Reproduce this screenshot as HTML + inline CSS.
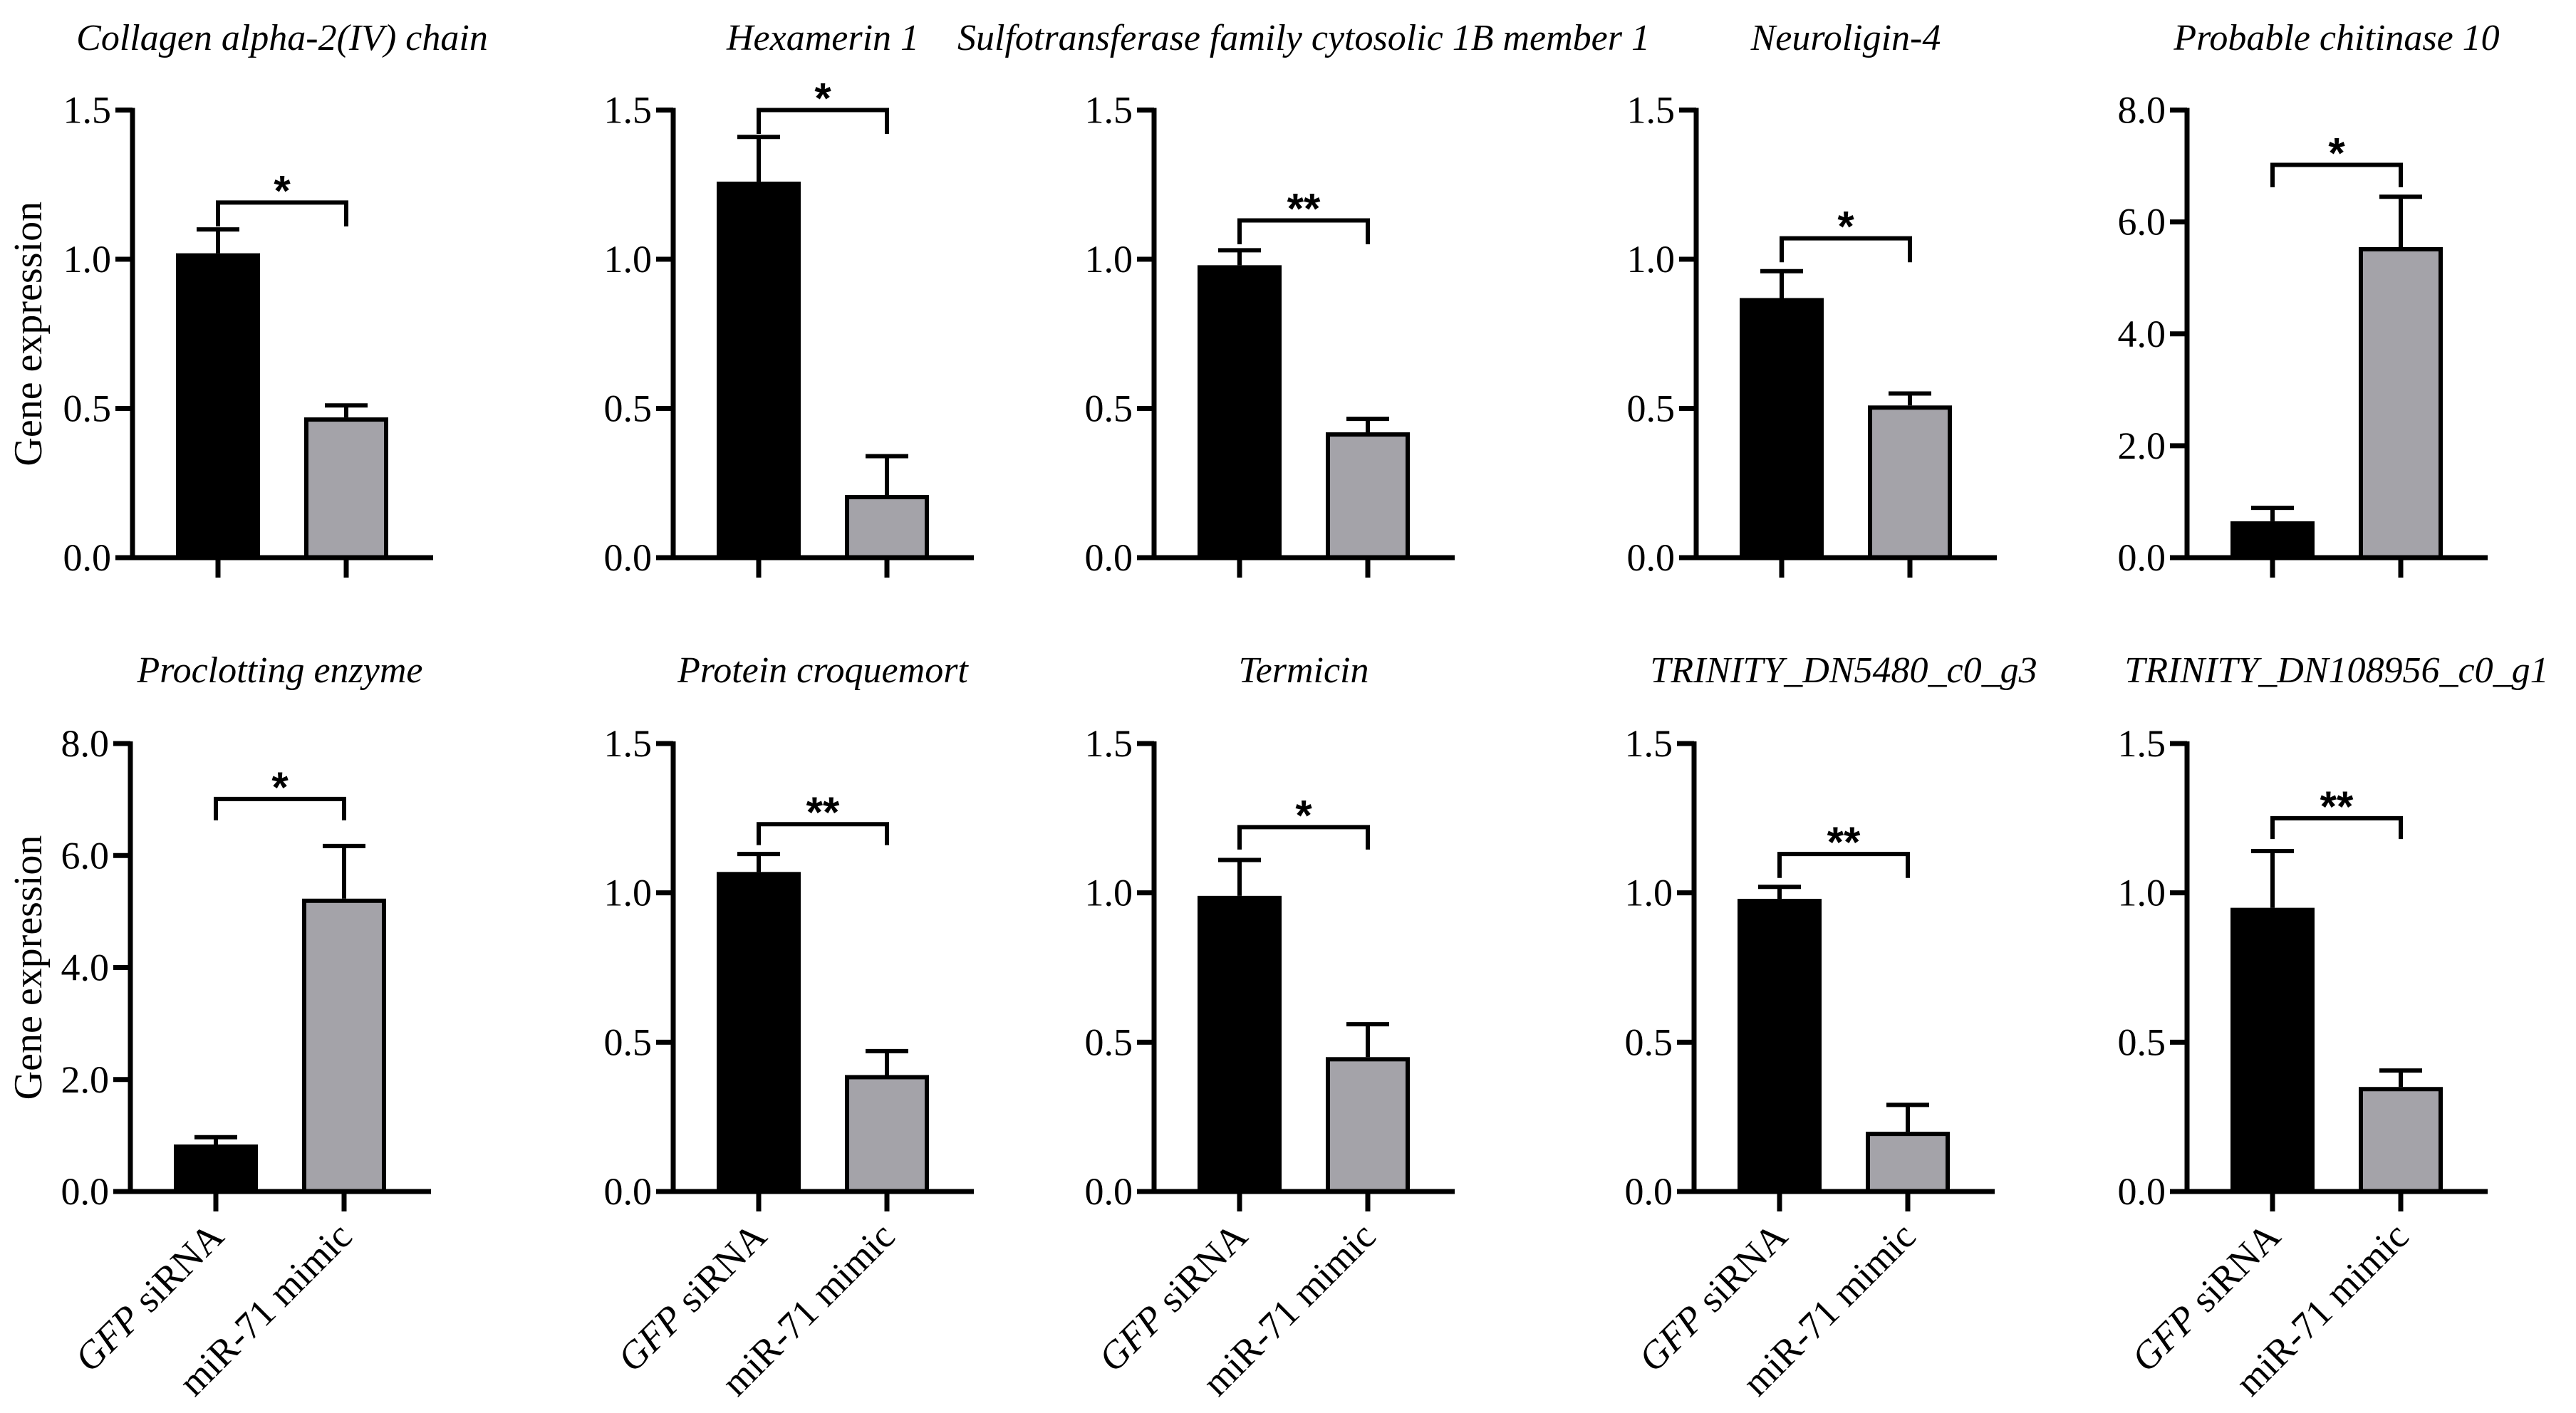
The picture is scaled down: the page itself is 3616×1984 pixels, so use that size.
<!DOCTYPE html>
<html><head><meta charset="utf-8"><style>
html,body{margin:0;padding:0;background:#fff;}
svg{display:block;}
svg text, svg tspan{font-family:'Liberation Serif', serif !important;fill:#000;}
svg text.star{font-family:'Liberation Sans', sans-serif !important;}
</style></head>
<body>
<svg id="chart" width="3616" height="1984" viewBox="0 0 3616 1984" xmlns="http://www.w3.org/2000/svg"></svg>
<script>
const titles = ["Collagen alpha-2(IV) chain","Hexamerin 1","Sulfotransferase family cytosolic 1B member 1","Neuroligin-4","Probable chitinase 10","Proclotting enzyme","Protein croquemort","Termicin","TRINITY_DN5480_c0_g3","TRINITY_DN108956_c0_g1"];
const categories = ["GFP siRNA","miR-71 mimic"];
const controlMeans = [1.02,1.26,0.98,0.87,0.65,0.84,1.07,0.99,0.98,0.95];
const controlErr = [0.08,0.15,0.05,0.09,0.24,0.13,0.06,0.12,0.04,0.19];
const mimicMeans = [0.47,0.21,0.42,0.51,5.55,5.23,0.39,0.45,0.20,0.35];
const mimicErr = [0.04,0.13,0.045,0.04,0.90,0.94,0.08,0.11,0.09,0.055];
const bracketLevels = [1.19,1.50,1.13,1.07,7.02,7.01,1.23,1.22,1.13,1.25];
const bracketLegs = [1.11,1.42,1.05,0.99,6.62,6.63,1.16,1.145,1.05,1.18];
const stars = ["*","*","**","*","*","*","**","*","**","**"];
const yMaxes = [1.5,1.5,1.5,1.5,8,8,1.5,1.5,1.5,1.5];
const ticksSmall = [0,0.5,1.0,1.5];
const ticksLarge = [0,2,4,6,8];

const NS="http://www.w3.org/2000/svg";
const svg=document.getElementById('chart');
const axisXs=[[186,945,1620,2381,3070],[183,945,1620,2378,3070]];
const rowY0=[783,1673], rowTop=[154.5,1044], titleY=[70,958];
function el(tag,attrs,parent){const e=document.createElementNS(NS,tag);for(const k in attrs)e.setAttribute(k,attrs[k]);(parent||svg).appendChild(e);return e;}

for(let i=0;i<10;i++){
  const row=i<5?0:1, col=i%5;
  const ax=axisXs[row][col];
  const y0=rowY0[row], yt=rowTop[row], ymax=yMaxes[i];
  const yS=v=>y0-(v/ymax)*(y0-yt);
  const t1=ax+120, t2=ax+300;
  const g=el('g',{});
  
  
  const tt=el('text',{x:(t1+t2)/2,y:titleY[row],'text-anchor':'middle','font-size':52,'font-style':'italic'},g);
  tt.textContent=titles[i];
  
  
  const bw=118;
  const b1=el('rect',{x:t1-bw/2,y:yS(controlMeans[i]),width:bw,height:y0-yS(controlMeans[i]),fill:'#000'},g);
  
  
  const b2=el('rect',{x:t2-bw/2+3,y:yS(mimicMeans[i])+3,width:bw-6,height:y0-yS(mimicMeans[i])-3,fill:'#a4a3a9',stroke:'#000','stroke-width':6},g);
  
  
  [[t1,controlMeans[i],controlErr[i]],[t2,mimicMeans[i],mimicErr[i]]].forEach(([x,m,e])=>{
    const p=el('path',{d:`M${x},${yS(m)} V${yS(m+e)} M${x-30},${yS(m+e)} H${x+30}`,stroke:'#000','stroke-width':6,fill:'none'},g);
    
    
  });
  const axp=el('path',{d:`M${ax},${yt-3} V${y0} M${ax-24},${y0} H${t2+122} M${t1},${y0} V${y0+28} M${t2},${y0} V${y0+28}`,stroke:'#000','stroke-width':7,fill:'none'},g);
  
  
  const ticks=ymax>2?ticksLarge:ticksSmall;
  ticks.forEach(v=>{
    const tk=el('path',{d:`M${ax-24},${yS(v)} H${ax}`,stroke:'#000','stroke-width':7},g);
    
    
    const tl=el('text',{x:ax-30,y:yS(v)+18,'text-anchor':'end','font-size':54},g);
    tl.textContent=v.toFixed(1);
    
    
  });
  const bl=el('path',{d:`M${t1},${yS(bracketLegs[i])} V${yS(bracketLevels[i])} H${t2} V${yS(bracketLegs[i])}`,stroke:'#000','stroke-width':6,fill:'none'},g);
  
  
  const st=el('text',{class:'star',x:(t1+t2)/2,y:yS(bracketLevels[i])+4,'text-anchor':'middle','font-size':60,'font-weight':'bold'},g);
  st.textContent=stars[i];
  
  
  if(col===0){
    const yl=el('text',{x:0,y:0,'text-anchor':'middle','font-size':56,transform:`translate(58,${(y0+yt)/2}) rotate(-90)`},g);
    yl.textContent='Gene expression';
    
    
  }
  if(row===1){
    [t1,t2].forEach((x,k)=>{
      const cl=el('text',{x:0,y:0,'text-anchor':'end','font-size':54,transform:`translate(${x+14},${y0+66}) rotate(-45)`},g);
      if(k===0){
        const s1=el('tspan',{'font-style':'italic'},cl);s1.textContent='GFP';
        const s2=el('tspan',{},cl);s2.textContent=' siRNA';
      } else cl.textContent=categories[1];
      
      
    });
  }
}
</script>
</body></html>
